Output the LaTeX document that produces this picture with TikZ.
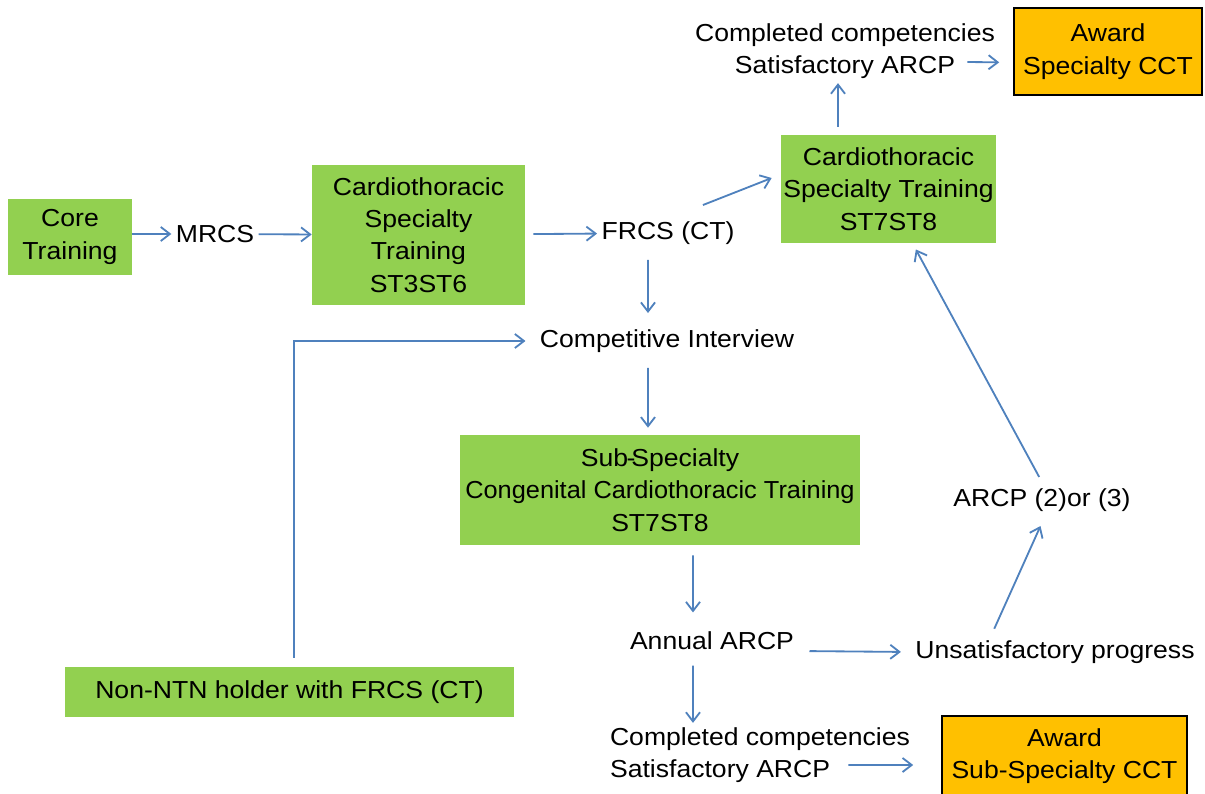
\documentclass[tikz,border=0pt]{standalone}
\usepackage{fontspec}
\setmainfont{Liberation Sans}[FakeStretch=1.08]
\usetikzlibrary{arrows.meta}
\definecolor{boxgreen}{HTML}{92D050}
\definecolor{cctorange}{HTML}{FFC000}
\definecolor{flowblue}{HTML}{4F81BD}
\tikzset{
  stage/.style={fill=boxgreen, align=center, inner sep=0pt},
  award/.style={fill=cctorange, draw=black, line width=1.1pt, align=center, inner sep=0pt},
  gate/.style={align=center, inner sep=3pt},
  flow/.style={draw=flowblue, line width=1.3pt, ->},
}
\begin{document}
\begin{tikzpicture}[x=0.025cm, y=-0.025cm, font=\fontsize{17.5}{23}\selectfont,
    >={Straight Barb[length=6.5pt,width=10pt]}]
\useasboundingbox (0,0) rectangle (1205,794);

\node[stage, minimum width=30.75mm, minimum height=19mm] (core) at (70,237) {Core\\Training};
\node[gate] (mrcs) at (215,234) {MRCS};
\node[stage, minimum width=53.25mm, minimum height=35mm] (st3) at (418.5,235)
    {Cardiothoracic\\Specialty\\Training\\ST3ST6};
\node[gate] (frcs) at (668,233) {FRCS (CT)};
\node[stage, minimum width=53.75mm, minimum height=27mm] (st7) at (888.5,189)
    {Cardiothoracic\\Specialty Training\\ST7ST8};
\node[gate] (done) at (845,51) {Completed competencies\\Satisfactory ARCP};
\node[award, minimum width=47mm, minimum height=21.75mm] (cct) at (1108,51.5) {Award\\Specialty CCT};
\node[gate] (interview) at (667,341) {Competitive Interview};
\node[stage, minimum width=100mm, minimum height=27.5mm] (sub) at (660,490)
    {Sub\kern-1pt-\kern-3pt Specialty\\{\addfontfeature{FakeStretch=1.03}Congenital Cardiothoracic Training}\\ST7ST8};
\node[gate] (annual) at (712,641) {Annual ARCP};
\node[gate] (unsat) at (1055,652) {Unsatisfactory progress};
\node[gate] (arcp) at (1042,500) {ARCP (2)or (3)};
\node[stage, minimum width=112.25mm, minimum height=12.5mm] (nonntn) at (289.5,692)
    {Non-NTN holder with FRCS (CT)};
\node[gate, align=left] (subdone) at (760,755) {Completed competencies\\Satisfactory ARCP};
\node[award, minimum width=61.25mm, minimum height=20mm] (subcct) at (1064.5,756)
    {Award\\Sub-Specialty CCT};

\draw[flow] (core.east |- mrcs) -- (mrcs);
\draw[flow] (mrcs) -- (st3);
\draw[flow, shorten <=2mm] (st3) -- (frcs);
\draw[flow] ([xshift=-9mm,yshift=3mm]frcs.north east) -- ([xshift=-2.25mm,yshift=2.75mm]st7.west);
\draw[flow, shorten <=2mm] ([xshift=-1.75mm]st7.north -| done.south) -- ([xshift=-1.75mm]done.south);
\draw[flow, shorten >=3.5mm] ([xshift=-8mm,yshift=-2.75mm]done.east) -- ([yshift=-2.75mm]cct.west);
\draw[flow, shorten <=2.75mm, shorten >=3mm] ([xshift=-5mm]frcs.south) -- ([xshift=-4.75mm]interview.north);
\draw[flow, shorten <=2.25mm, shorten >=2.5mm] ([xshift=1.1mm]nonntn.north) |- (interview.west);
\draw[flow, shorten <=2.75mm, shorten >=1.75mm] ([xshift=-4.75mm]interview.south) -- ([xshift=-3mm]sub.north);
\draw[flow, shorten <=2.5mm, shorten >=3.75mm] ([xshift=8.25mm]sub.south) -- ([xshift=-4.75mm]annual.north);
\draw[flow, shorten <=2.75mm, shorten >=2.5mm] ([yshift=-2.5mm]annual.east) -- (unsat.west);
\draw[flow, shorten <=2mm, shorten >=2.75mm] ([xshift=-16mm]unsat.north) -- ([xshift=0.75mm]arcp.south);
\draw[flow, shorten <=2mm, shorten >=1.75mm] ([xshift=0.25mm]arcp.north) -- ([xshift=6mm]st7.south);
\draw[flow, shorten <=2.75mm] ([xshift=-4.75mm]annual.south) -- ([xshift=-16.75mm]subdone.north);
\draw[flow, shorten >=7mm] ([xshift=-16.5mm,yshift=-2.5mm]subdone.east) -- ([yshift=-2.25mm]subcct.west);
\end{tikzpicture}
\end{document}
